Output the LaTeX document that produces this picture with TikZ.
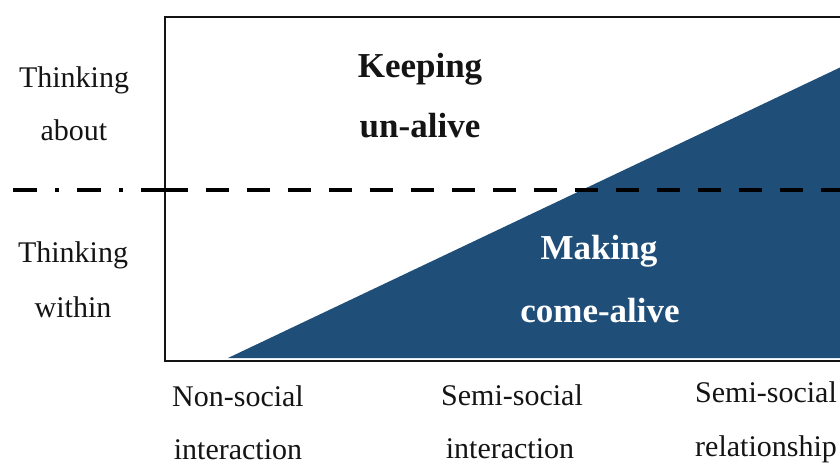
\documentclass[tikz,border=0pt]{standalone}
\usepackage{fontspec}
\setmainfont{Liberation Serif}
\definecolor{deepblue}{RGB}{31,78,121}
\definecolor{ink}{RGB}{20,20,20}
\begin{document}
\begin{tikzpicture}[x=1pt,y=-1pt,
  lbl/.style={anchor=base,inner sep=0pt,text=ink,font=\fontsize{30}{36}\selectfont},
  big/.style={anchor=base,inner sep=0pt,text=ink,font=\fontsize{35}{42}\selectfont\bfseries},
  bigw/.style={big,text=white},
  frame/.style={draw=ink,line width=2pt},
  divider/.style={draw=black,line width=4.5pt}]
\useasboundingbox (0,0) rectangle (840,464);
\clip (0,0) rectangle (840,464);
% triangle
\fill[deepblue] (228,358) -- (860,358) -- (860,58) -- cycle;
% frame
\draw[frame] (164.5,17) rectangle (860,361);
% divider line
\coordinate (dl) at (13,190);
\coordinate (dm) at (164.5,190);
\coordinate (dr) at (860,190);
\draw[divider,dash pattern=on 24pt off 18pt on 4pt off 18pt] (dl) -- (dm);
\draw[divider,dash pattern=on 23pt off 18pt] (dm) -- (dr);
% left labels
\node[lbl] (ta1) at (74,87) {Thinking};
\node[lbl] (ta2) at (74,140) {about};
\node[lbl] (tw1) at (73,262) {Thinking};
\node[lbl] (tw2) at (73,317) {within};
% region labels
\node[big] (k1) at (420,77) {Keeping};
\node[big] (k2) at (420,137) {un-alive};
\node[bigw] (m1) at (599,259) {Making};
\node[bigw] (m2) at (600,322) {come-alive};
% bottom labels
\node[lbl] (b1) at (238,406) {Non-social};
\node[lbl] (b2) at (238,459) {interaction};
\node[lbl] (c1) at (512,405) {Semi-social};
\node[lbl] (c2) at (510,458) {interaction};
\node[lbl] (d1) at (766,402) {Semi-social};
\node[lbl] (d2) at (766,456) {relationship};
\end{tikzpicture}
\end{document}
